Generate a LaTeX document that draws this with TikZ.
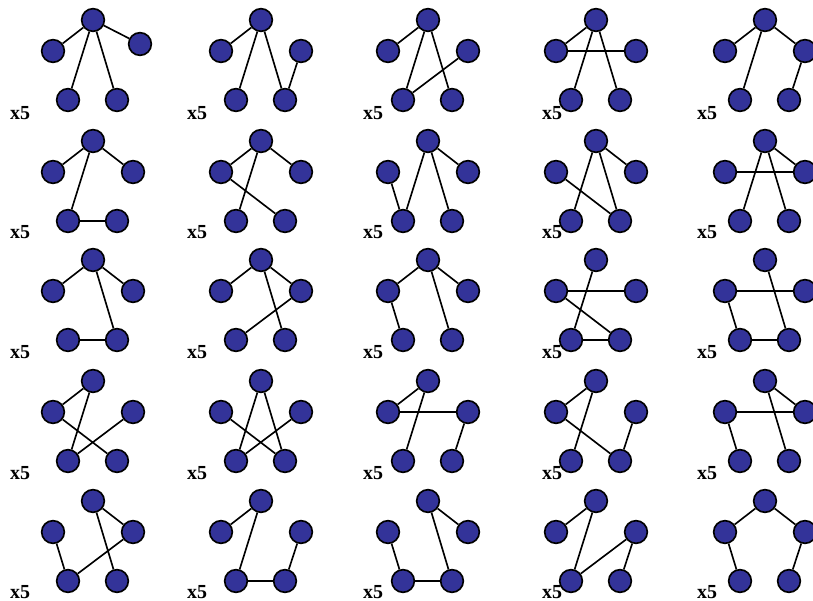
\documentclass[tikz,border=0pt]{standalone}
\usepackage{fontspec}
\setmainfont{Liberation Serif}
\definecolor{vertexblue}{RGB}{51,51,153}
\tikzset{
  vtx/.style={circle,draw=black,fill=vertexblue,line width=1.4pt,minimum size=0.68cm,inner sep=0pt},
  edg/.style={line width=1.4pt},
  mult/.style={font=\fontsize{17}{19}\selectfont\bfseries,inner sep=0pt}
}
% five vertices of one tree, #2,#3 = top vertex (pixels)
\newcommand{\pentagon}[3]{%
  \node[vtx] (#1t) at (#2,#3) {};
  \node[vtx] (#1l) at ({#2-40},{#3+31}) {};
  \node[vtx] (#1r) at ({#2+40},{#3+31}) {};
  \node[vtx] (#1bl) at ({#2-25},{#3+80}) {};
  \node[vtx] (#1br) at ({#2+24},{#3+80}) {};
}
\begin{document}
\begin{tikzpicture}[x=0.03cm,y=-0.03cm]
\useasboundingbox (0,0) rectangle (813,601);
\clip (0,0) rectangle (813,601);
% row 1 (the first one has its right vertex moved up)
\node[vtx] (a1t) at (93,20) {};
\node[vtx] (a1l) at (53,51) {};
\node[vtx] (a1r) at (140,44) {};
\node[vtx] (a1bl) at (68,100) {};
\node[vtx] (a1br) at (117,100) {};
\pentagon{a2}{261}{20}
\pentagon{a3}{428}{20}
\pentagon{a4}{596}{20}
\pentagon{a5}{765}{20}
% rows 2--5
\pentagon{b1}{93}{141}
\pentagon{b2}{261}{141}
\pentagon{b3}{428}{141}
\pentagon{b4}{596}{141}
\pentagon{b5}{765}{141}
\pentagon{c1}{93}{260}
\pentagon{c2}{261}{260}
\pentagon{c3}{428}{260}
\pentagon{c4}{596}{260}
\pentagon{c5}{765}{260}
\pentagon{d1}{93}{381}
\pentagon{d2}{261}{381}
\pentagon{d3}{428}{381}
\pentagon{d4}{596}{381}
\pentagon{d5}{765}{381}
\pentagon{e1}{93}{501}
\pentagon{e2}{261}{501}
\pentagon{e3}{428}{501}
\pentagon{e4}{596}{501}
\pentagon{e5}{765}{501}
% edges
\draw[edg] (a1t)--(a1l) (a1t)--(a1r) (a1t)--(a1bl) (a1t)--(a1br);
\draw[edg] (a2t)--(a2l) (a2t)--(a2bl) (a2t)--(a2br) (a2r)--(a2br);
\draw[edg] (a3t)--(a3l) (a3t)--(a3bl) (a3t)--(a3br) (a3r)--(a3bl);
\draw[edg] (a4t)--(a4l) (a4l)--(a4r) (a4t)--(a4bl) (a4t)--(a4br);
\draw[edg] (a5t)--(a5l) (a5t)--(a5r) (a5t)--(a5bl) (a5r)--(a5br);
\draw[edg] (b1t)--(b1l) (b1t)--(b1r) (b1t)--(b1bl) (b1bl)--(b1br);
\draw[edg] (b2t)--(b2l) (b2t)--(b2r) (b2t)--(b2bl) (b2l)--(b2br);
\draw[edg] (b3t)--(b3r) (b3t)--(b3bl) (b3t)--(b3br) (b3l)--(b3bl);
\draw[edg] (b4t)--(b4r) (b4t)--(b4bl) (b4t)--(b4br) (b4l)--(b4br);
\draw[edg] (b5t)--(b5r) (b5l)--(b5r) (b5t)--(b5bl) (b5t)--(b5br);
\draw[edg] (c1t)--(c1l) (c1t)--(c1r) (c1t)--(c1br) (c1bl)--(c1br);
\draw[edg] (c2t)--(c2l) (c2t)--(c2r) (c2t)--(c2br) (c2r)--(c2bl);
\draw[edg] (c3t)--(c3l) (c3t)--(c3r) (c3t)--(c3br) (c3l)--(c3bl);
\draw[edg] (c4l)--(c4r) (c4t)--(c4bl) (c4bl)--(c4br) (c4l)--(c4br);
\draw[edg] (c5l)--(c5r) (c5l)--(c5bl) (c5bl)--(c5br) (c5t)--(c5br);
\draw[edg] (d1t)--(d1l) (d1t)--(d1bl) (d1l)--(d1br) (d1r)--(d1bl);
\draw[edg] (d2t)--(d2bl) (d2t)--(d2br) (d2l)--(d2br) (d2r)--(d2bl);
\draw[edg] (d3t)--(d3l) (d3l)--(d3r) (d3t)--(d3bl) (d3r)--(d3br);
\draw[edg] (d4t)--(d4l) (d4l)--(d4br) (d4r)--(d4br) (d4t)--(d4bl);
\draw[edg] (d5t)--(d5r) (d5l)--(d5r) (d5t)--(d5br) (d5l)--(d5bl);
\draw[edg] (e1t)--(e1r) (e1t)--(e1br) (e1l)--(e1bl) (e1bl)--(e1r);
\draw[edg] (e2t)--(e2l) (e2t)--(e2bl) (e2bl)--(e2br) (e2br)--(e2r);
\draw[edg] (e3t)--(e3r) (e3t)--(e3br) (e3br)--(e3bl) (e3bl)--(e3l);
\draw[edg] (e4t)--(e4l) (e4t)--(e4bl) (e4bl)--(e4r) (e4r)--(e4br);
\draw[edg] (e5t)--(e5l) (e5t)--(e5r) (e5l)--(e5bl) (e5r)--(e5br);
% multiplicities
\node[mult] (ma1) at (20,113) {x5};
\node[mult] (ma2) at (197,113) {x5};
\node[mult] (ma3) at (373,113) {x5};
\node[mult] (ma4) at (552,113) {x5};
\node[mult] (ma5) at (707,113) {x5};
\node[mult] (mb1) at (20,232) {x5};
\node[mult] (mb2) at (197,232) {x5};
\node[mult] (mb3) at (373,232) {x5};
\node[mult] (mb4) at (552,232) {x5};
\node[mult] (mb5) at (707,232) {x5};
\node[mult] (mc1) at (20,352) {x5};
\node[mult] (mc2) at (197,352) {x5};
\node[mult] (mc3) at (373,352) {x5};
\node[mult] (mc4) at (552,352) {x5};
\node[mult] (mc5) at (707,352) {x5};
\node[mult] (md1) at (20,473) {x5};
\node[mult] (md2) at (197,473) {x5};
\node[mult] (md3) at (373,473) {x5};
\node[mult] (md4) at (552,473) {x5};
\node[mult] (md5) at (707,473) {x5};
\node[mult] (me1) at (20,592) {x5};
\node[mult] (me2) at (197,592) {x5};
\node[mult] (me3) at (373,592) {x5};
\node[mult] (me4) at (552,592) {x5};
\node[mult] (me5) at (707,592) {x5};
\end{tikzpicture}
\end{document}
